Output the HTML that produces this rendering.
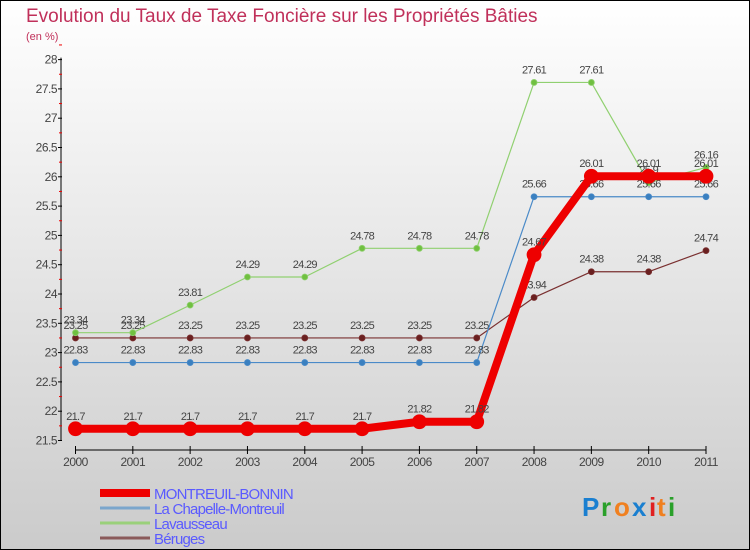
<!DOCTYPE html>
<html><head><meta charset="utf-8"><style>
body{margin:0;width:750px;height:550px;overflow:hidden;font-family:"Liberation Sans",sans-serif}
svg{display:block}
</style></head><body>
<svg id="chart" width="750" height="550" viewBox="0 0 750 550">
<defs><linearGradient id="bg" x1="0" y1="0" x2="0" y2="1"><stop offset="0" stop-color="#ffffff"/><stop offset="1" stop-color="#cbcbcb"/></linearGradient></defs>
<rect x="0.5" y="0.5" width="749" height="549" fill="url(#bg)" stroke="#000"/>
<text x="26" y="22" font-size="19" fill="#c0305a" font-weight="300">Evolution du Taux de Taxe Foncière sur les Propriétés Bâties</text>
<text x="26" y="40" font-size="11" fill="#c0305a">(en %)</text>
<g id="axes"></g><g id="series"></g><g id="legend"></g>
<g font-size="26" font-weight="bold" transform="translate(582,516)">
<text x="0" y="0" fill="#1a7fd0">P</text><text x="19" y="0" fill="#2aa02a">r</text><text x="32" y="0" fill="#f08020">o</text><text x="50" y="0" fill="#1a7fd0">x</text><text x="67" y="0" fill="#e02020">i</text><text x="75" y="0" fill="#f08020">t</text><text x="86" y="0" fill="#2aa02a">i</text>
</g>
</svg>
<script>
const years=[2000,2001,2002,2003,2004,2005,2006,2007,2008,2009,2010,2011];
const yTicks=[21.5,22,22.5,23,23.5,24,24.5,25,25.5,26,26.5,27,27.5,28];
const seriesNames=["MONTREUIL-BONNIN","La Chapelle-Montreuil","Lavausseau","Béruges"];
const montreuil=[21.7,21.7,21.7,21.7,21.7,21.7,21.82,21.82,24.67,26.01,26.01,26.01];
const chapelle=[22.83,22.83,22.83,22.83,22.83,22.83,22.83,22.83,25.66,25.66,25.66,25.66];
const lavausseau=[23.34,23.34,23.81,24.29,24.29,24.78,24.78,24.78,27.61,27.61,25.9,26.16];
const beruges=[23.25,23.25,23.25,23.25,23.25,23.25,23.25,23.25,23.94,24.38,24.38,24.74];
const NS="http://www.w3.org/2000/svg";
const X=i=>75.5+i*(706-75.5)/11;
const Y=v=>440.5-(v-21.5)*58.6;
function el(t,a,p){const e=document.createElementNS(NS,t);for(const k in a)e.setAttribute(k,a[k]);p.appendChild(e);return e;}
const ax=document.getElementById('axes');
let yl=el('line',{x1:61,y1:Y(28)-2,x2:61,y2:Y(21.5),stroke:'#000'},ax);


yTicks.forEach(v=>{
 el('line',{x1:58,x2:62,y1:Y(v),y2:Y(v),stroke:'#000'},ax);
 el('line',{x1:59,x2:62,y1:Y(v+0.25),y2:Y(v+0.25),stroke:'#e00'},ax);
 const t=el('text',{x:57,y:Y(v)+4,'text-anchor':'end','font-size':12,fill:'#444','letter-spacing':'-0.5'},ax);
 
 
 t.textContent=v;
});
let xl=el('line',{x1:75.5,y1:450,x2:706,y2:450,stroke:'#000'},ax);


years.forEach((y,i)=>{
 el('line',{x1:X(i),x2:X(i),y1:446,y2:454,stroke:'#000'},ax);
 const t=el('text',{x:X(i),y:466,'text-anchor':'middle','font-size':12,fill:'#444','letter-spacing':'-0.5'},ax);
 
 
 t.textContent=y;
});
const sg=document.getElementById('series');
function draw(data,color,fill,w,r,name){
 const g=el('g',{},sg);
 
 
 el('polyline',{points:data.map((v,i)=>X(i)+','+Y(v)).join(' '),fill:'none',stroke:color,'stroke-width':w,'stroke-linejoin':'round'},g);
 data.forEach((v,i)=>{
  const c=el('circle',{cx:X(i),cy:Y(v),r:r,fill:fill,stroke:color,'stroke-width':0.8},g);
  
  
  const t=el('text',{x:X(i),y:Y(v)-9,'text-anchor':'middle','font-size':11,fill:'#444','letter-spacing':'-0.7'},g);
  
  
  t.textContent=v;
 });
}
draw(beruges,'#7a3030','#6a2020',1.2,3,'series-beruges');
draw(lavausseau,'#90d070','#70c040',1.2,3,'series-lavausseau');
draw(chapelle,'#4a8ac8','#3a80c0',1.2,3,'series-la-chapelle-montreuil');
draw(montreuil,'#ee0000','#ee0000',8,7,'series-montreuil-bonnin');
const lg=document.getElementById('legend');
const lc=['#ee0000','#7ba6cc','#9ad07a','#8a5a5a'],lw=[8,3,3,3];
seriesNames.forEach((n,i)=>{
 const g=el('g',{},lg);
 
 
 const yy=493+i*15;
 el('line',{x1:100,x2:150,y1:yy,y2:yy,stroke:lc[i],'stroke-width':lw[i]},g);
 const t=el('text',{x:154,y:yy+6,'font-size':15,fill:'#5a5aff','letter-spacing':'-0.8'},g);
 t.textContent=n;
});
</script>
</body></html>
